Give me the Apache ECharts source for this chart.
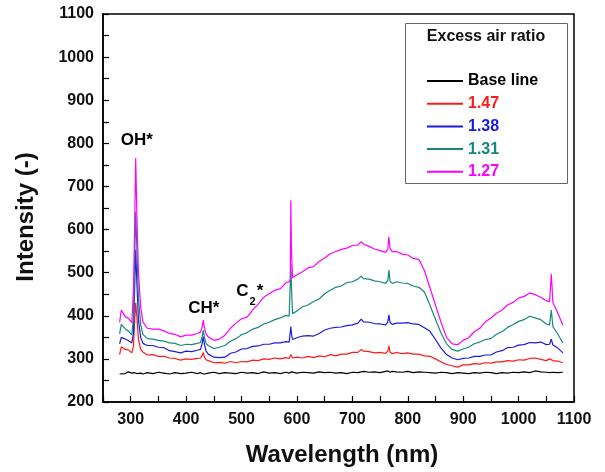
<!DOCTYPE html>
<html>
<head>
<meta charset="utf-8">
<script src="https://cdn.jsdelivr.net/npm/echarts@6/dist/echarts.min.js"></script>
<style>html,body{margin:0;padding:0;background:#fff}#c{width:605px;height:472px}</style>
</head>
<body>
<div id="c"></div>
<script>
var wavelength = [280,283,290,296,302,305,307,309,311,314,
318,322,330,340,350,360,370,380,390,400,
410,420,426,429,431,433,436,440,450,460,
470,480,490,500,510,520,530,540,550,560,
570,580,586,588,589,590,592,600,610,620,
630,640,650,660,670,680,690,700,710,716,
720,730,740,750,760,764,766,768,772,780,
790,800,810,820,830,840,850,860,870,880,
890,900,910,920,930,940,950,960,970,980,
990,1000,1010,1020,1030,1040,1050,1056,1059,1062,
1070,1080];

var baseLine = [265,268,266,270,267,264,268,271,266,269,
267,265,268,266,269,267,265,268,266,267,
269,266,268,267,265,268,266,267,269,266,
268,267,266,269,267,268,266,270,267,268,
266,269,267,268,266,270,268,267,269,268,
267,270,268,269,267,268,266,269,268,270,
271,269,270,268,271,272,270,269,271,270,
269,271,268,270,269,268,267,269,268,266,
268,267,266,268,267,269,268,266,268,267,
269,268,270,268,272,270,269,268,270,269,
268,269];

var ratio147 = [310,328,322,321,314,330,385,430,400,345,
322,316,309,310,306,306,302,301,297,300,
299,301,302,308,315,304,298,296,291,292,
290,294,291,294,293,297,296,300,299,302,
300,303,301,303,310,306,302,304,302,306,
303,307,305,310,307,311,311,315,315,322,
318,317,314,315,313,318,330,316,312,315,
312,314,311,311,307,306,300,293,287,284,
281,286,286,289,288,291,290,293,293,296,
295,298,297,301,302,299,296,300,303,296,
295,291];

var ratio138 = [335,350,346,342,337,360,460,553,480,390,
350,336,331,331,327,326,319,317,314,318,
317,320,322,336,351,334,318,311,304,303,
304,313,316,323,324,329,330,334,334,337,
337,340,339,342,375,360,345,349,353,354,
353,359,367,371,373,374,377,379,383,392,
386,385,382,381,379,386,402,385,380,383,
383,384,381,380,372,364,345,325,310,302,
298,301,302,306,306,309,309,316,319,326,
327,332,333,338,337,339,333,334,346,332,
326,314];

var ratio131 = [358,380,370,364,356,395,520,641,560,440,
380,357,347,346,343,341,337,336,331,334,
333,336,338,352,367,350,336,331,324,327,
331,341,347,356,361,369,373,381,385,391,
395,401,399,402,520,470,405,411,421,425,
433,439,451,459,466,469,477,479,485,492,
486,485,481,479,475,482,506,480,475,479,
476,475,469,466,455,425,392,360,335,322,
318,323,327,335,339,345,347,357,363,373,
379,387,391,399,395,391,381,379,413,375,
359,337];

var ratio127 = [385,413,398,394,384,462,600,766,640,500,
420,386,371,369,369,365,359,357,351,355,
355,359,362,375,390,372,358,351,343,346,
355,371,383,393,397,413,427,443,451,459,
463,476,479,484,668,560,488,495,502,511,
514,526,534,544,549,554,557,563,564,572,
566,561,555,551,547,555,583,556,549,549,
543,541,533,531,505,465,425,385,350,335,
333,343,349,363,371,386,395,406,413,425,
431,441,445,453,449,443,435,433,497,430,
409,378];

var seriesNames = ['Base line','1.47','1.38','1.31','1.27'];
var seriesColors = ['#000000','#ff1a1a','#1a1ae0','#16897a','#ff00ff'];
var seriesValues = [baseLine, ratio147, ratio138, ratio131, ratio127];

var annoX = [311, 432, 515];
var annoY = [803, 413, 453];
var annoText = ['{c|OH*}', '{c|CH*}', '{c|C}{s|2}{c|*}'];

var xTicks = {min:250, max:1100, interval:50};
var yTicks = {min:200, max:1100, interval:50};

function pairs(vals){ return wavelength.map(function(w,i){ return [w, vals[i]]; }); }

var font = 'Liberation Sans, Arial, sans-serif';

var series = seriesNames.map(function(n, k){
  return {
    name: n, type: 'line', data: pairs(seriesValues[k]),
    showSymbol: false, symbol: 'none',
    lineStyle: {color: seriesColors[k], width: 1.2},
    itemStyle: {color: seriesColors[k]},
    z: 2 + k
  };
});

var baseGraphics = [
  {type: 'rect', shape: {x: 405.5, y: 23.5, width: 162, height: 160}, style: {fill: 'none', stroke: '#666', lineWidth: 1}, z: 1},
  {type: 'text', x: 486, y: 36.5, style: {text: 'Excess air ratio', fill: '#111', font: 'bold 16px Liberation Sans, Arial', textAlign: 'center', textVerticalAlign: 'middle'}, z: 5},
  {type: 'text', x: 26, y: 217, rotation: Math.PI/2, style: {text: 'Intensity (-)', fill: '#111', font: 'bold 24px Liberation Sans, Arial', textAlign: 'center', textVerticalAlign: 'middle'}, z: 5},
  {type: 'text', x: 342, y: 455, style: {text: 'Wavelength (nm)', fill: '#111', font: 'bold 24px Liberation Sans, Arial', textAlign: 'center', textVerticalAlign: 'middle'}, z: 5}
];

var chart = echarts.init(document.getElementById('c'), null, {renderer: 'canvas'});
chart.setOption({
  animation: false,
  backgroundColor: '#fff',
  grid: {left: 103, right: 31, top: 14, bottom: 70, show: true, borderColor: '#000', borderWidth: 1.5, backgroundColor: 'transparent'},
  xAxis: {
    type: 'value', min: xTicks.min, max: xTicks.max, interval: xTicks.interval,
    axisLine: {show: true, lineStyle: {color: '#000', width: 1.5}},
    axisTick: {show: true, inside: true, length: 6, lineStyle: {color: '#000', width: 1.2}},
    splitLine: {show: false},
    axisLabel: {color: '#111', fontSize: 16, fontWeight: 'bold', fontFamily: font, margin: 10,
      formatter: function(v){ return v % 100 === 0 ? String(v) : ''; }}
  },
  yAxis: {
    type: 'value', min: yTicks.min, max: yTicks.max, interval: yTicks.interval,
    axisLine: {show: true, lineStyle: {color: '#000', width: 1.5}},
    axisTick: {show: true, inside: true, length: 6, lineStyle: {color: '#000', width: 1.2}},
    splitLine: {show: false},
    axisLabel: {color: '#111', fontSize: 16, fontWeight: 'bold', fontFamily: font, margin: 9,
      formatter: function(v){ return v % 100 === 0 ? String(v) : ''; }}
  },
  legend: {
    orient: 'vertical', left: 427, top: 73, padding: 0,
    itemWidth: 36, itemHeight: 2, itemGap: 6.7, icon: 'rect',
    selectedMode: false,
    textStyle: {fontSize: 16, fontWeight: 'bold', fontFamily: font, lineHeight: 16},
    data: seriesNames.map(function(n,k){ return {name: n, textStyle: {color: seriesColors[k]}}; })
  },
  graphic: baseGraphics,
  series: series
});

var annoGraphics = annoX.map(function(x, i){
  var p = chart.convertToPixel({gridIndex: 0}, [x, annoY[i]]);
  return {
    type: 'text', x: p[0], y: p[1], z: 20, silent: true,
    style: {
      text: annoText[i], align: 'center', verticalAlign: 'middle',
      rich: {
        c: {fontSize: 17, fontWeight: 'bold', fill: '#000', fontFamily: font, lineHeight: 20, verticalAlign: 'top'},
        s: {fontSize: 11, fontWeight: 'bold', fill: '#000', fontFamily: font, lineHeight: 20, padding: [14,1,0,1], verticalAlign: 'top'}
      }
    }
  };
});
chart.setOption({graphic: baseGraphics.concat(annoGraphics)}, {replaceMerge: ['graphic']});
</script>
</body>
</html>
